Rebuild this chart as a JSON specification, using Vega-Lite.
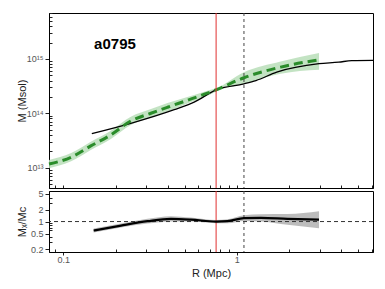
{
  "$schema": "https://vega.github.io/schema/vega-lite/v6.json",
  "autosize": "pad",
  "padding": {"left": 15, "top": 12, "right": 13, "bottom": 5},
  "background": "white",
  "config": {
    "font": "Liberation Sans",
    "view": {"stroke": "black", "strokeWidth": 1},
    "concat": {"spacing": 0},
    "axis": {
      "domainColor": "black",
      "tickColor": "#222",
      "labelColor": "#555",
      "labelFontSize": 9,
      "titleFontSize": 11,
      "titleFontWeight": "normal",
      "titleColor": "#222",
      "grid": false
    }
  },
  "datasets": {
    "green": [
      {"R": 0.0827, "M": 1.16e13, "lo": 9.7e12, "hi": 1.38e13},
      {"R": 0.111, "M": 1.55e13, "lo": 1.3e13, "hi": 1.85e13},
      {"R": 0.144, "M": 2.5e13, "lo": 2.1e13, "hi": 2.98e13},
      {"R": 0.188, "M": 4.0e13, "lo": 3.36e13, "hi": 4.76e13},
      {"R": 0.245, "M": 7.2e13, "lo": 6.05e13, "hi": 8.6e13},
      {"R": 0.32, "M": 1.0e14, "lo": 8.4e13, "hi": 1.19e14},
      {"R": 0.399, "M": 1.29e14, "lo": 1.08e14, "hi": 1.54e14},
      {"R": 0.508, "M": 1.69e14, "lo": 1.47e14, "hi": 1.94e14},
      {"R": 0.677, "M": 2.34e14, "lo": 2.1e14, "hi": 2.6e14},
      {"R": 0.76, "M": 2.7e14, "lo": 2.52e14, "hi": 2.89e14},
      {"R": 1.1, "M": 4.5e14, "lo": 3.48e14, "hi": 5.7e14},
      {"R": 1.79, "M": 7.06e14, "lo": 5.33e14, "hi": 9.0e14},
      {"R": 2.98, "M": 9.66e14, "lo": 6.3e14, "hi": 1.29e15}
    ],
    "black": [
      {"R": 0.146, "M": 4.2e13},
      {"R": 0.245, "M": 6.5e13},
      {"R": 0.436, "M": 1.16e14},
      {"R": 0.568, "M": 1.6e14},
      {"R": 0.76, "M": 2.7e14},
      {"R": 1.1, "M": 3.48e14},
      {"R": 1.29, "M": 4.0e14},
      {"R": 1.7, "M": 5.7e14},
      {"R": 2.98, "M": 8.15e14},
      {"R": 3.87, "M": 8.7e14},
      {"R": 4.6, "M": 9.3e14},
      {"R": 6.1, "M": 9.4e14}
    ],
    "ratio": [
      {"R": 0.1496, "v": 0.596, "lo": 0.531, "hi": 0.669},
      {"R": 0.215, "v": 0.794, "lo": 0.708, "hi": 0.891},
      {"R": 0.306, "v": 1.02, "lo": 0.889, "hi": 1.17},
      {"R": 0.417, "v": 1.17, "lo": 1.01, "hi": 1.36},
      {"R": 0.543, "v": 1.12, "lo": 1.0, "hi": 1.26},
      {"R": 0.76, "v": 1.0, "lo": 0.912, "hi": 1.096},
      {"R": 0.884, "v": 1.02, "lo": 0.91, "hi": 1.14},
      {"R": 1.1, "v": 1.22, "lo": 1.04, "hi": 1.43},
      {"R": 1.375, "v": 1.24, "lo": 1.01, "hi": 1.53},
      {"R": 1.96, "v": 1.17, "lo": 0.83, "hi": 1.55},
      {"R": 2.98, "v": 1.12, "lo": 0.68, "hi": 1.82}
    ],
    "vlines": [
      {"R": 0.76, "kind": "red"},
      {"R": 1.1, "kind": "dash"}
    ],
    "label": [{"R": 0.1985, "M": 1.9e15, "text": "a0795"}],
    "one": [{"v": 1}]
  },
  "vconcat": [
    {
      "width": 324,
      "height": 175,
      "layer": [
        {
          "data": {"name": "green"},
          "mark": {"type": "area", "color": "#b9deb9", "opacity": 0.85, "interpolate": "monotone"},
          "encoding": {
            "x": {"field": "R", "type": "quantitative", "scale": {"type": "log", "domain": [0.0827, 6.1], "nice": false},
              "axis": {"title": null, "labels": false, "values": [0.09, 0.1, 0.2, 0.3, 0.4, 0.5, 0.6, 0.7, 0.8, 0.9, 1, 2, 3, 4, 5, 6], "tickSize": -3}},
            "y": {"field": "lo", "type": "quantitative", "scale": {"type": "log", "domain": [4.2e12, 7.0e15], "nice": false},
              "axis": {
                "title": "M  (Msol)",
                "titleX": -22,
                "values": [5e12, 6e12, 7e12, 8e12, 9e12, 1e13, 2e13, 3e13, 4e13, 5e13, 6e13, 7e13, 8e13, 9e13, 1e14, 2e14, 3e14, 4e14, 5e14, 6e14, 7e14, 8e14, 9e14, 1e15, 2e15, 3e15, 4e15, 5e15, 6e15, 7e15],
                "labelExpr": "datum.value == 1e13 ? '10¹³' : datum.value == 1e14 ? '10¹⁴' : datum.value == 1e15 ? '10¹⁵' : ''",
                "tickSize": {"condition": {"test": "datum.value == 1e13 || datum.value == 1e14 || datum.value == 1e15", "value": 4}, "value": -3},
                "labelPadding": 2
              }},
            "y2": {"field": "hi"}
          }
        },
        {
          "data": {"name": "black"},
          "mark": {"type": "line", "color": "black", "strokeWidth": 1.3, "interpolate": "monotone"},
          "encoding": {
            "x": {"field": "R", "type": "quantitative"},
            "y": {"field": "M", "type": "quantitative"}
          }
        },
        {
          "data": {"name": "green"},
          "mark": {"type": "line", "color": "#2a8c2a", "strokeWidth": 3, "strokeDash": [9, 5], "interpolate": "monotone"},
          "encoding": {
            "x": {"field": "R", "type": "quantitative"},
            "y": {"field": "M", "type": "quantitative"}
          }
        },
        {
          "data": {"name": "vlines"},
          "transform": [{"filter": "datum.kind == 'red'"}],
          "mark": {"type": "rule", "color": "#e03030", "strokeWidth": 1},
          "encoding": {"x": {"field": "R", "type": "quantitative"}}
        },
        {
          "data": {"name": "vlines"},
          "transform": [{"filter": "datum.kind == 'dash'"}],
          "mark": {"type": "rule", "color": "#444", "strokeWidth": 1, "strokeDash": [3, 3]},
          "encoding": {"x": {"field": "R", "type": "quantitative"}}
        },
        {
          "data": {"name": "label"},
          "mark": {"type": "text", "fontSize": 15, "fontWeight": "bold", "color": "black"},
          "encoding": {
            "x": {"field": "R", "type": "quantitative"},
            "y": {"field": "M", "type": "quantitative"},
            "text": {"field": "text"}
          }
        }
      ]
    },
    {
      "width": 324,
      "height": 61,
      "layer": [
        {
          "data": {"name": "ratio"},
          "mark": {"type": "area", "color": "#b0b0b0", "opacity": 0.85, "interpolate": "monotone"},
          "encoding": {
            "x": {"field": "R", "type": "quantitative", "scale": {"type": "log", "domain": [0.0827, 6.1], "nice": false},
              "axis": {
                "title": "R  (Mpc)",
                "titlePadding": 3,
                "values": [0.09, 0.1, 0.2, 0.3, 0.4, 0.5, 0.6, 0.7, 0.8, 0.9, 1, 2, 3, 4, 5, 6],
                "labelExpr": "datum.value == 0.1 ? '0.1' : datum.value == 1 ? '1' : ''",
                "tickSize": {"condition": {"test": "datum.value == 0.1 || datum.value == 1", "value": 3}, "value": -3},
                "labelPadding": 0
              }},
            "y": {"field": "lo", "type": "quantitative", "scale": {"type": "log", "domain": [0.172, 5.85], "nice": false},
              "axis": {
                "title": "Mₓ/Mc",
                "titleX": -22,
                "values": [0.2, 0.3, 0.4, 0.5, 0.6, 0.7, 0.8, 0.9, 1, 2, 3, 4, 5],
                "labelExpr": "datum.value == 0.2 ? '0.2' : datum.value == 0.5 ? '0.5' : datum.value == 1 ? '1' : datum.value == 2 ? '2' : datum.value == 5 ? '5' : ''",
                "tickSize": {"condition": {"test": "datum.value == 0.2 || datum.value == 0.5 || datum.value == 1 || datum.value == 2 || datum.value == 5", "value": 4}, "value": -3},
                "labelPadding": 2
              }},
            "y2": {"field": "hi"}
          }
        },
        {
          "data": {"name": "one"},
          "mark": {"type": "rule", "color": "#333", "strokeWidth": 1, "strokeDash": [4, 3]},
          "encoding": {"y": {"field": "v", "type": "quantitative"}}
        },
        {
          "data": {"name": "vlines"},
          "transform": [{"filter": "datum.kind == 'red'"}],
          "mark": {"type": "rule", "color": "#e03030", "strokeWidth": 1},
          "encoding": {"x": {"field": "R", "type": "quantitative"}}
        },
        {
          "data": {"name": "vlines"},
          "transform": [{"filter": "datum.kind == 'dash'"}],
          "mark": {"type": "rule", "color": "#444", "strokeWidth": 1, "strokeDash": [3, 3]},
          "encoding": {"x": {"field": "R", "type": "quantitative"}}
        },
        {
          "data": {"name": "ratio"},
          "mark": {"type": "line", "color": "black", "strokeWidth": 2.2, "interpolate": "monotone"},
          "encoding": {
            "x": {"field": "R", "type": "quantitative"},
            "y": {"field": "v", "type": "quantitative"}
          }
        }
      ]
    }
  ]
}
